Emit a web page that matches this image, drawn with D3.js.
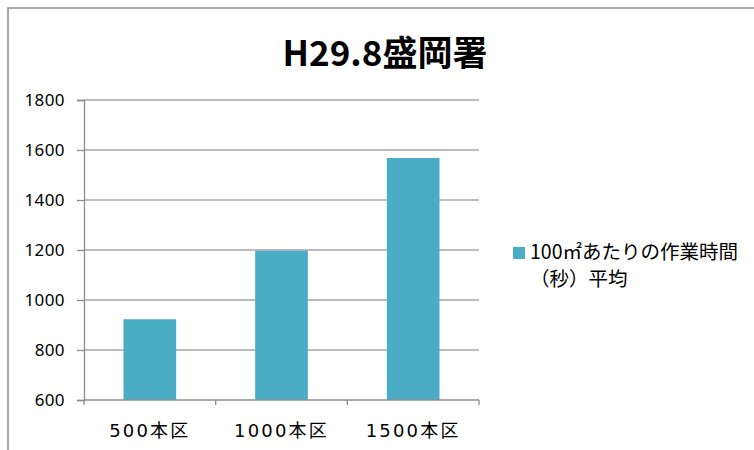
<!DOCTYPE html>
<html>
<head>
<meta charset="utf-8">
<script src="https://cdn.jsdelivr.net/npm/d3@7"></script>
<style>
  html, body { margin: 0; padding: 0; background: #fff; }
  svg { display: block; }
</style>
</head>
<body>
<svg id="chart" width="754" height="450"></svg>
<script>
// Average work time per 100㎡ (seconds), by planting density plot
const titleText = "H29.8盛岡署";
const categories = ["500本区", "1000本区", "1500本区"];
const values = [923, 1197, 1568];
const yTicks = [600, 800, 1000, 1200, 1400, 1600, 1800];
const legendLines = ["100㎡あたりの作業時間", "（秒）平均"];

const barColor = "#4bacc6";
const gridColor = "#a6a6a6";
const axisColor = "#8c8c8c";

const svg = d3.select("#chart");

// outer chart frame
svg.append("rect")
  .attr("x", 8).attr("y", 8)
  .attr("width", 760).attr("height", 460)
  .attr("fill", "#fff")
  .attr("stroke", "#8c8c8c")
  .attr("stroke-width", 1.5);

const plot = { left: 84, right: 479, top: 100, bottom: 400 };

const x = d3.scaleBand()
  .domain(categories)
  .range([plot.left, plot.right])
  .paddingInner(0.6)
  .paddingOuter(0.3);

const y = d3.scaleLinear()
  .domain([d3.min(yTicks), d3.max(yTicks)])
  .range([plot.bottom, plot.top]);

// horizontal gridlines
svg.append("g")
  .selectAll("line")
  .data(yTicks.slice(1))
  .join("line")
  .attr("x1", plot.left).attr("x2", plot.right)
  .attr("y1", d => y(d)).attr("y2", d => y(d))
  .attr("stroke", gridColor)
  .attr("stroke-width", 1.3);

// bars
svg.append("g")
  .selectAll("rect")
  .data(values)
  .join("rect")
  .attr("x", (d, i) => x(categories[i]))
  .attr("width", x.bandwidth())
  .attr("y", d => y(d))
  .attr("height", d => y(d3.min(yTicks)) - y(d))
  .attr("fill", barColor);

// y axis
const yAxis = d3.axisLeft(y)
  .tickValues(yTicks)
  .tickSize(7)
  .tickPadding(12)
  .tickFormat(d3.format("d"));

const gy = svg.append("g")
  .attr("transform", `translate(${plot.left},0)`)
  .call(yAxis);
gy.select(".domain").attr("stroke", axisColor).attr("stroke-width", 1.3);
gy.selectAll(".tick line").attr("stroke", axisColor).attr("stroke-width", 1.3);
gy.selectAll(".tick text")
  .attr("fill", "#000")
  .style("font-family", "'Noto Sans', 'DejaVu Sans', sans-serif")
  .style("font-size", "17px")
  .style("letter-spacing", "0.4px");

// x axis: category boundaries carry the tick marks
const gx = svg.append("g")
  .attr("transform", `translate(0,${plot.bottom})`);
gx.append("line")
  .attr("x1", plot.left).attr("x2", plot.right)
  .attr("stroke", axisColor).attr("stroke-width", 1.3);
const boundaries = categories.map(c => x(c) - x.step() * x.paddingInner() / 2)
  .map((v, i) => i === 0 ? plot.left : v)
  .concat([plot.right]);
gx.selectAll("line.bt")
  .data(boundaries)
  .join("line")
  .attr("class", "bt")
  .attr("x1", d => d).attr("x2", d => d)
  .attr("y1", 0).attr("y2", 5)
  .attr("stroke", axisColor).attr("stroke-width", 1.3);
gx.selectAll("text")
  .data(categories)
  .join("text")
  .attr("x", d => x(d) + x.bandwidth() / 2)
  .attr("y", 37)
  .attr("text-anchor", "middle")
  .attr("fill", "#000")
  .style("font-family", "'DejaVu Sans', 'Noto Sans CJK JP', sans-serif")
  .style("font-size", "18px")
  .style("letter-spacing", "2.2px")
  .text(d => d);

// title
svg.append("text")
  .attr("x", 385)
  .attr("y", 66)
  .attr("text-anchor", "middle")
  .attr("fill", "#000")
  .style("font-family", "'Noto Sans CJK JP', sans-serif")
  .style("font-weight", "bold")
  .style("font-size", "35px")
  .text(titleText);

// legend
const legend = svg.append("g");
legend.append("rect")
  .attr("x", 513).attr("y", 247)
  .attr("width", 12).attr("height", 12)
  .attr("fill", barColor);
legend.append("text")
  .attr("fill", "#000")
  .style("font-family", "'Noto Sans CJK JP', sans-serif")
  .style("font-size", "19.5px")
  .selectAll("tspan")
  .data(legendLines)
  .join("tspan")
  .attr("x", 530)
  .attr("y", (d, i) => 259 + i * 27)
  .text(d => d);
</script>
</body>
</html>
